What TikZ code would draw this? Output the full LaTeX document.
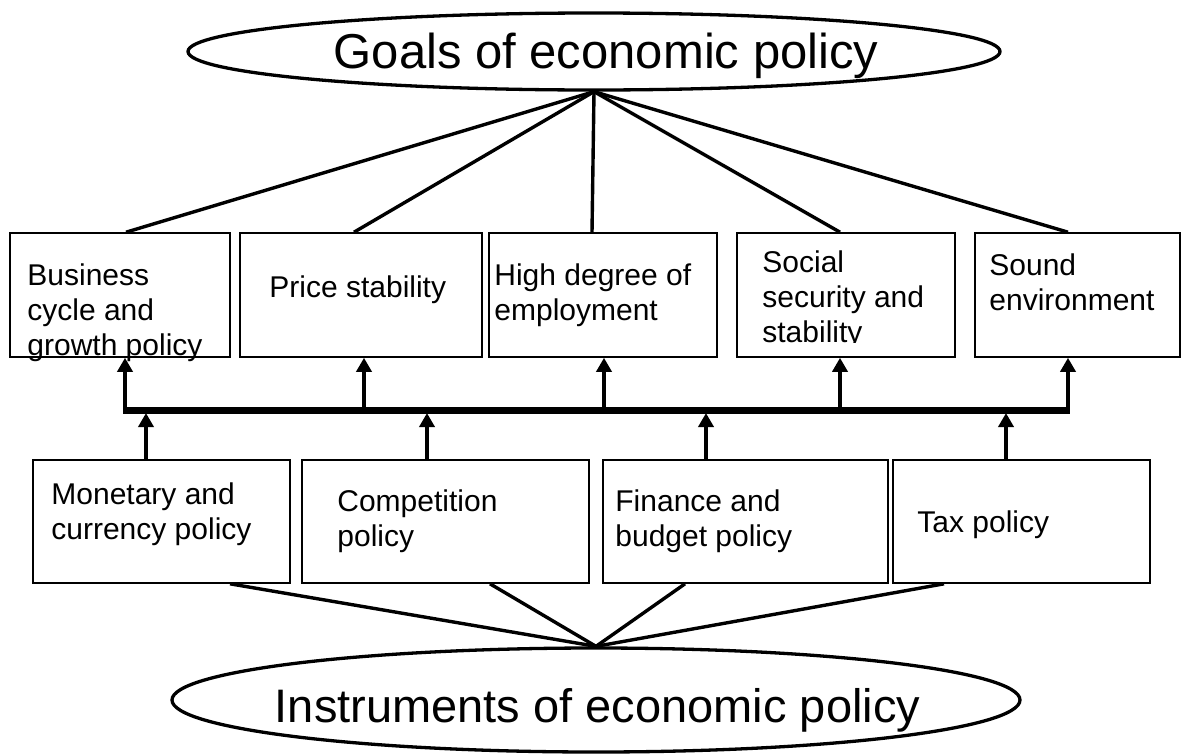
\documentclass[tikz,border=0pt]{standalone}
\usepackage{fontspec}
\setmainfont{Liberation Sans}
\usetikzlibrary{shapes.geometric,arrows.meta,calc}
\begin{document}
\begin{tikzpicture}[x=1pt,y=-1pt]
	\tikzstyle{every node}+=[inner sep=0pt]
	\tikzstyle{oval}=[draw,ellipse,line width=3.3pt]
	\tikzstyle{box}=[draw,line width=1.6pt,minimum height=124pt]
	\tikzstyle{txt}=[anchor=north west,align=left,font=\fontsize{30}{35}\selectfont]
	\tikzstyle{link}=[line width=3.4pt]
	\tikzstyle{up}=[line width=3.6pt,-{Triangle[width=15pt,length=14pt]}]
	\useasboundingbox (0,0) rectangle (1183,755);
	% goals
	\node[oval,minimum width=812pt,minimum height=77pt] (goals) at (594,51.5)
		{\raisebox{-17pt}[0pt][0pt]{\makebox[0pt]{\hspace*{24pt}\fontsize{49}{55}\selectfont Goals of economic policy}}};
	\node[box,minimum width=220pt] (g1) at (120,295) {};
	\node[box,minimum width=242pt] (g2) at (361,295) {};
	\node[box,minimum width=228pt] (g3) at (603,295) {};
	\node[box,minimum width=218pt] (g4) at (846,295) {};
	\node[box,minimum width=205pt] (g5) at (1077.5,295) {};
	\node[txt] (t1) at ($(g1.north west)+(18,31)$) {Business\\cycle and\\growth policy};
	\node[txt] (t2) at ($(g2.north west)+(30,43)$) {Price stability};
	\node[txt] (t3) at ($(g3.north west)+(6,31)$) {High degree of\\employment};
	\begin{scope}
		\clip (g4.north west) rectangle ($(g4.south east)+(0,-15)$);
		\node[txt] (t4) at ($(g4.north west)+(26,18)$) {Social\\security and\\stability};
	\end{scope}
	\node[txt] (t5) at ($(g5.north west)+(15,21)$) {Sound\\environment};
	\draw[link] (goals.south) -- ($(g1.north)+(6,0)$);
	\draw[link] (goals.south) -- ($(g2.north)+(-7,0)$);
	\draw[link] (goals.south) -- ($(g3.north)+(-11,0)$);
	\draw[link] (goals.south) -- ($(g4.north)+(-6,0)$);
	\draw[link] (goals.south) -- ($(g5.north)+(-9.5,0)$);
	% bus
	\coordinate (busL) at (123.2,410);
	\coordinate (busR) at (1069.8,410);
	\draw[line width=7pt] (busL) -- (busR);
	\coordinate (a1) at (125,410);
	\coordinate (a2) at (364,410);
	\coordinate (a3) at (604,410);
	\coordinate (a4) at (840,410);
	\coordinate (a5) at (1068,410);
	\draw[up] (a1) -- (a1 |- g1.south);
	\draw[up] (a2) -- (a2 |- g2.south);
	\draw[up] (a3) -- (a3 |- g3.south);
	\draw[up] (a4) -- (a4 |- g4.south);
	\draw[up] (a5) -- (a5 |- g5.south);
	% instruments
	\node[box,minimum width=257pt,minimum height=123pt] (i1) at (161.5,521.5) {};
	\node[box,minimum width=287pt,minimum height=123pt] (i2) at (445.5,521.5) {};
	\node[box,minimum width=285pt,minimum height=123pt] (i3) at (745.5,521.5) {};
	\node[box,minimum width=257pt,minimum height=123pt] (i4) at (1021.5,521.5) {};
	\node[txt] (s1) at ($(i1.north west)+(19,23)$) {Monetary and\\currency policy};
	\node[txt] (s2) at ($(i2.north west)+(36,30)$) {Competition\\policy};
	\node[txt] (s3) at ($(i3.north west)+(13,30)$) {Finance and\\budget policy};
	\node[txt] (s4) at ($(i4.north west)+(25,51)$) {Tax policy};
	\coordinate (b1) at (146,413);
	\coordinate (b2) at (427,413);
	\coordinate (b3) at (706,413);
	\coordinate (b4) at (1006,413);
	\draw[up] (b1 |- i1.north) -- (b1);
	\draw[up] (b2 |- i2.north) -- (b2);
	\draw[up] (b3 |- i3.north) -- (b3);
	\draw[up] (b4 |- i4.north) -- (b4);
	\node[oval,minimum width=848pt,minimum height=104pt] (instr) at (596,700)
		{\raisebox{-22pt}[0pt][0pt]{\makebox[0pt]{\hspace*{3pt}\fontsize{47}{53}\selectfont Instruments of economic policy}}};
	\draw[link] ($(i1.south)+(68.5,0)$) -- (instr.north);
	\draw[link] ($(i2.south)+(44.5,0)$) -- (instr.north);
	\draw[link] ($(i3.south)+(-60.5,0)$) -- (instr.north);
	\draw[link] ($(i4.south)+(-77.5,0)$) -- (instr.north);
\end{tikzpicture}
\end{document}
